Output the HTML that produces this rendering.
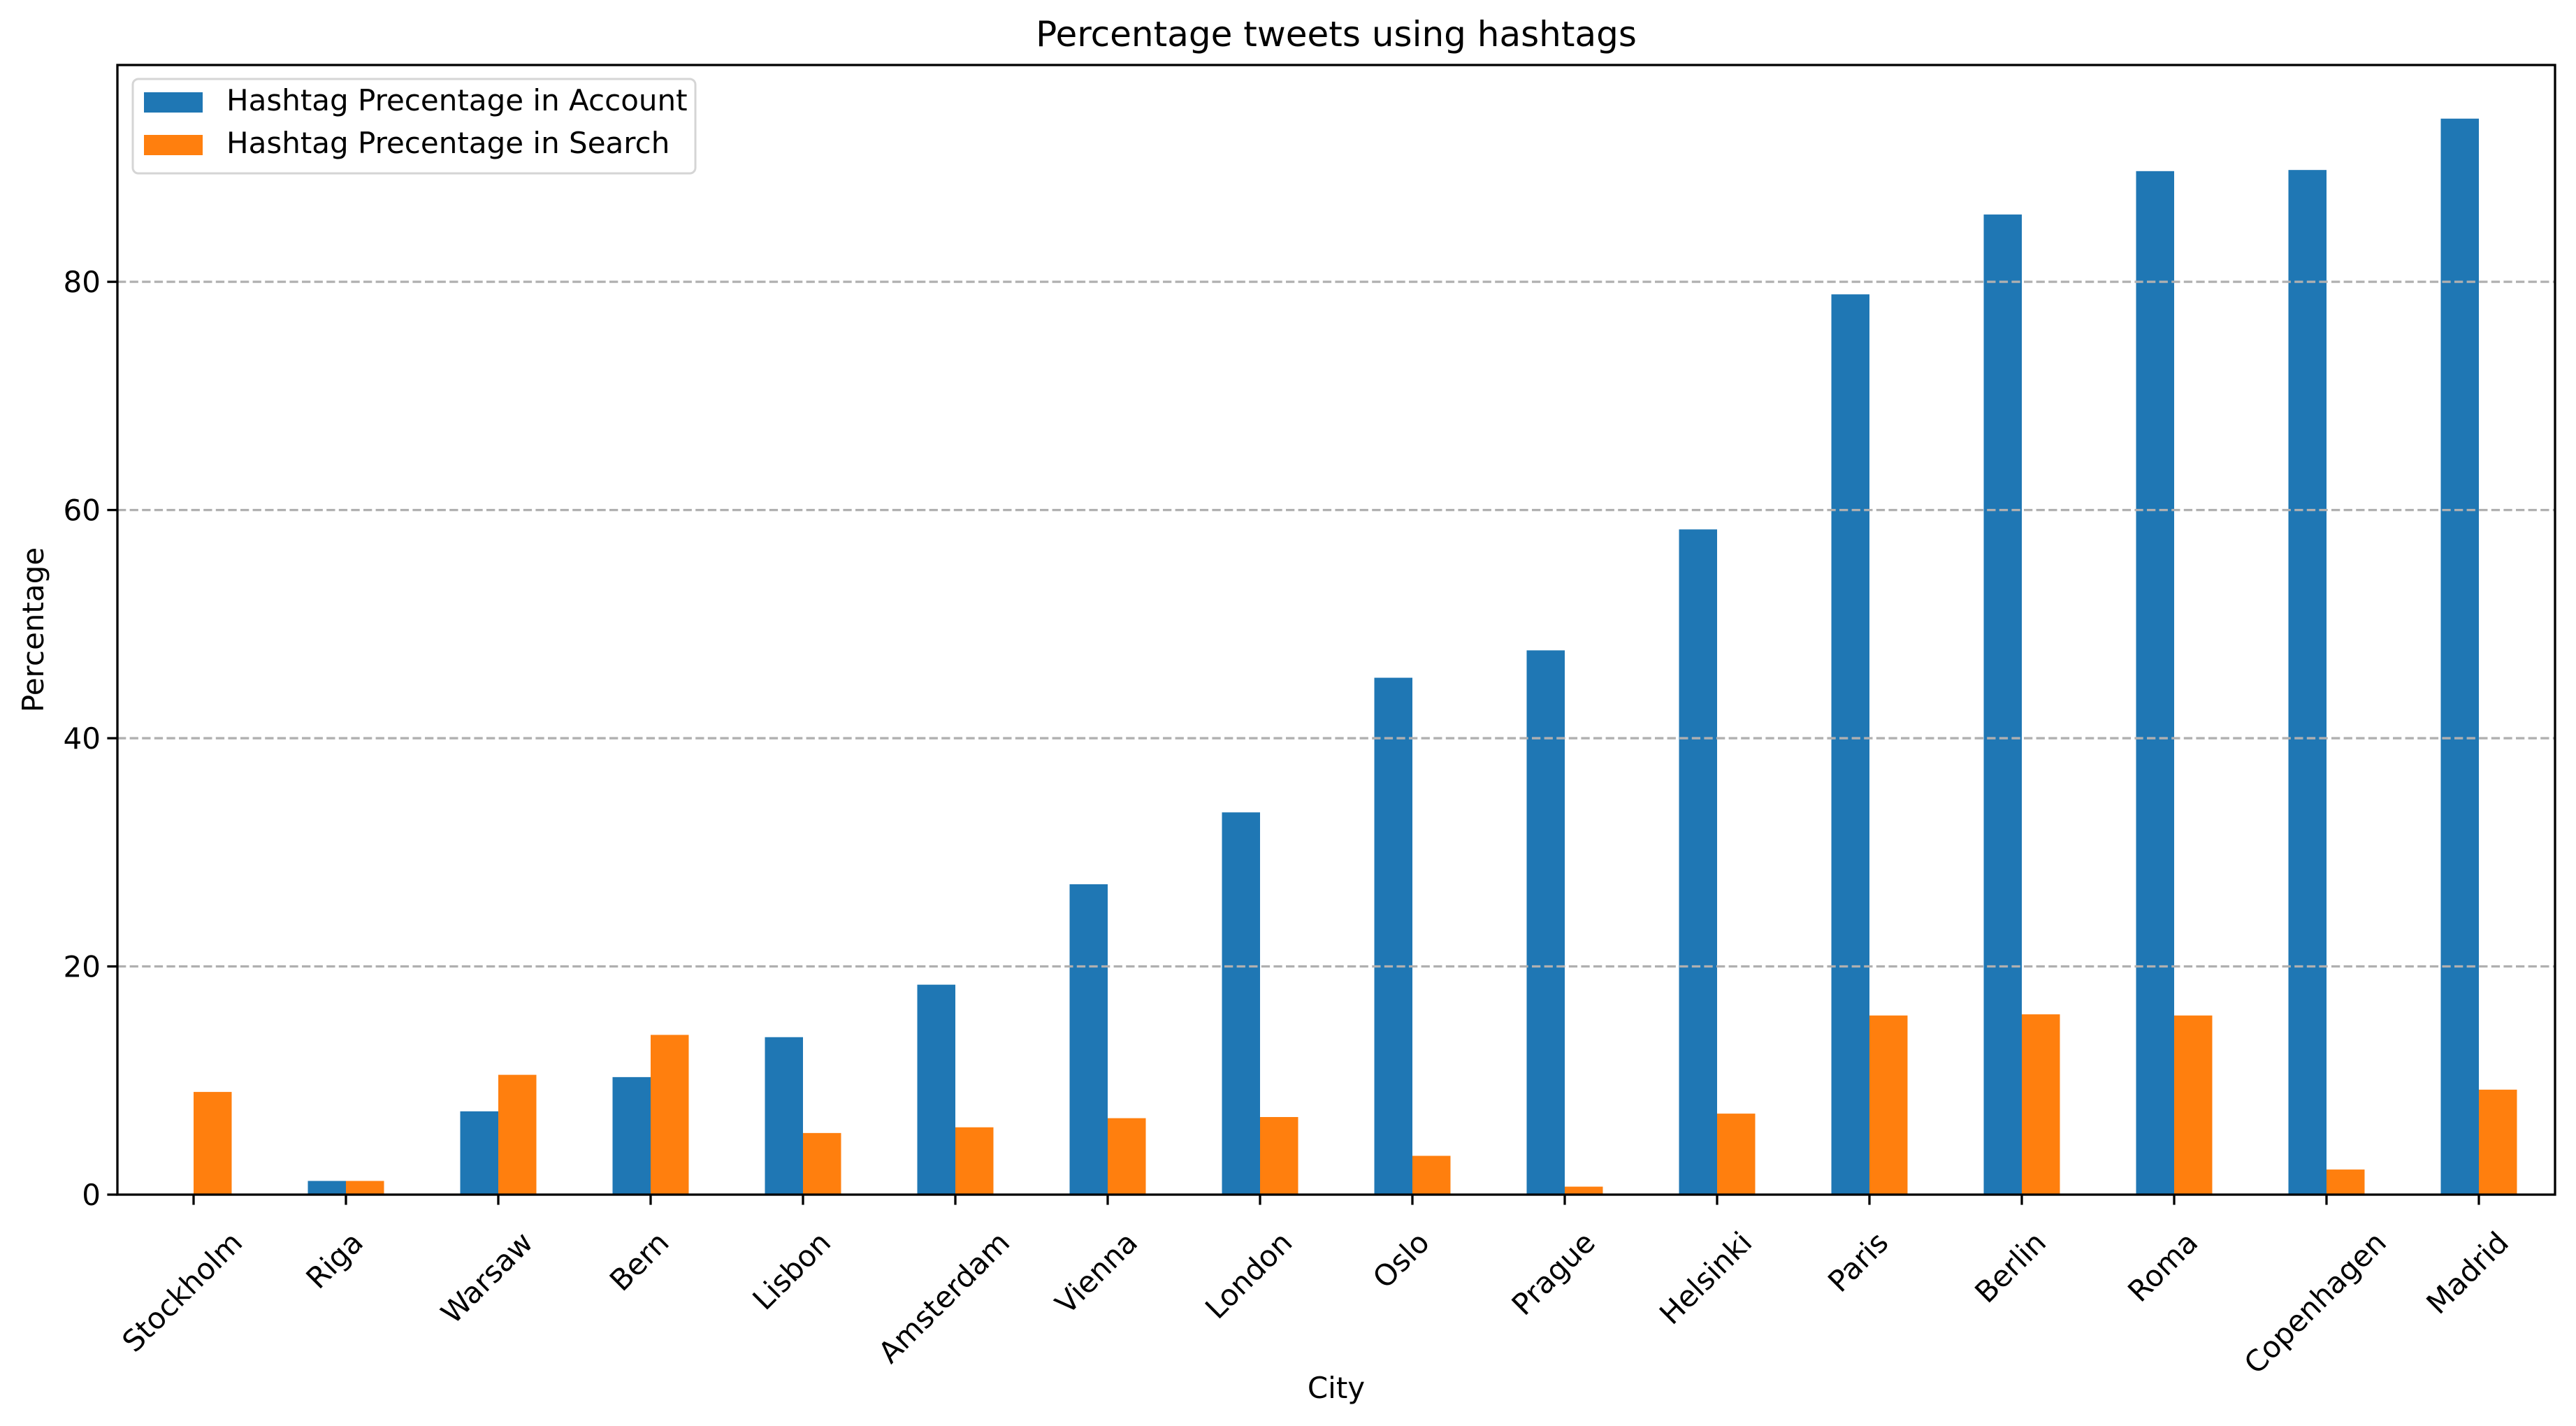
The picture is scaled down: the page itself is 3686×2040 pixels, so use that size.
<!DOCTYPE html>
<html><head><meta charset="utf-8"><style>
html,body{margin:0;padding:0;background:#fff;}
svg{display:block;font-family:"DejaVu Sans","Liberation Sans",sans-serif;}
</style></head><body>
<svg id="chart" width="3686" height="2040" viewBox="0 0 3686 2040" xmlns="http://www.w3.org/2000/svg">
<rect width="3686" height="2040" fill="#fff"/>
<text x="1912" y="66" font-size="50" text-anchor="middle">Percentage tweets using hashtags</text>
<g id="bars"></g>
<g id="grid"></g>
<g id="axes"></g>
<text x="1912" y="2000" font-size="42" text-anchor="middle">City</text>
<text transform="translate(62,901) rotate(-90)" font-size="42" text-anchor="middle">Percentage</text>
<g>
<rect x="190" y="113" width="805" height="135" rx="8" fill="#fff" fill-opacity="0.8" stroke="#d5d5d5" stroke-width="3"/>
<rect x="206" y="132" width="84" height="29" fill="#1f77b4"/>
<text x="324" y="158" font-size="42">Hashtag Precentage in Account</text>
<rect x="206" y="193" width="84" height="29" fill="#ff7f0e"/>
<text x="324" y="219" font-size="42">Hashtag Precentage in Search</text>
</g>
</svg>
<script>
const categories = ["Stockholm","Riga","Warsaw","Bern","Lisbon","Amsterdam","Vienna","London","Oslo","Prague","Helsinki","Paris","Berlin","Roma","Copenhagen","Madrid"];
const accountValues = [0,1.2,7.3,10.3,13.8,18.4,27.2,33.5,45.3,47.7,58.3,78.9,85.9,89.7,89.8,94.3];
const searchValues = [9.0,1.2,10.5,14.0,5.4,5.9,6.7,6.8,3.4,0.7,7.1,15.7,15.8,15.7,2.2,9.2];
const yTicks = [0,20,40,60,80];

const NS="http://www.w3.org/2000/svg";
const L=168,R=3656,T=93,B=1709,YMAX=99.0;
const n=categories.length, step=(R-L)/n;
const xs=i=>L+step*(i+0.5);
const ys=v=>B-(v/YMAX)*(B-T);
function mk(tag,attrs,parent){const e=document.createElementNS(NS,tag);for(const k in attrs)e.setAttribute(k,attrs[k]);parent.appendChild(e);return e;}
const bars=document.getElementById('bars'),grid=document.getElementById('grid'),axes=document.getElementById('axes');
const bw=step*0.25;
categories.forEach((c,i)=>{
  const a=mk('rect',{x:xs(i)-bw,y:ys(accountValues[i]),width:bw,height:B-ys(accountValues[i]),fill:'#1f77b4'},bars);
  
  
  const s=mk('rect',{x:xs(i),y:ys(searchValues[i]),width:bw,height:B-ys(searchValues[i]),fill:'#ff7f0e'},bars);
  
  
});
yTicks.forEach(v=>{
  if(v>0){const g=mk('line',{x1:L,x2:R,y1:ys(v),y2:ys(v),stroke:'#b0b0b0','stroke-width':3.3,'stroke-dasharray':'12.3 5.3'},grid);
  
  }
  const t=mk('line',{x1:L-14.6,x2:L,y1:ys(v),y2:ys(v),stroke:'#000','stroke-width':3.3},axes);
  
  
  const tx=mk('text',{x:L-24,y:ys(v)+15,'font-size':42,'text-anchor':'end'},axes);
  tx.textContent=v;
  
  
});
const frame=mk('rect',{x:L,y:T,width:R-L,height:B-T,fill:'none',stroke:'#000','stroke-width':3.3},axes);


categories.forEach((c,i)=>{
  const x=xs(i);
  const t=mk('line',{x1:x,x2:x,y1:B,y2:B+14.6,stroke:'#000','stroke-width':3.3},axes);
  
  
  const tx=mk('text',{'font-size':42,'text-anchor':'end'},axes);
  tx.textContent=c;
  
  
  const len=tx.getComputedTextLength();
  const ax=x+len*0.7071/2-6, ay=1753+30*0.7071+6;
  tx.setAttribute('transform','translate('+ax+','+ay+') rotate(-45)');
});
</script>
</body></html>
